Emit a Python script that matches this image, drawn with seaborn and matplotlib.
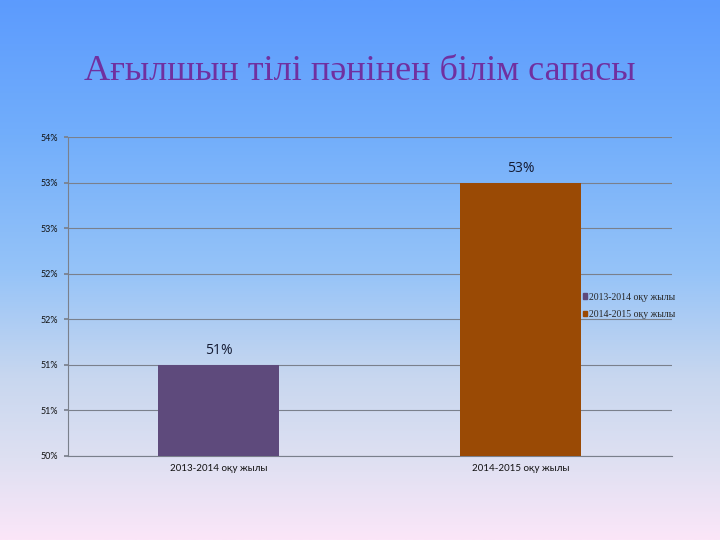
import math

import matplotlib

matplotlib.use("Agg")
import matplotlib.pyplot as plt
from matplotlib.colors import LinearSegmentedColormap
from matplotlib.ticker import FuncFormatter, MultipleLocator
import numpy as np
import pandas as pd
import seaborn as sns


TITLE = "Ағылшын тілі пәнінен білім сапасы"
years = ["2013-2014 оқу жылы", "2014-2015 оқу жылы"]
quality = [51, 53]  # percent
bar_colors = ["#5E4A7C", "#9A4A05"]


def round_half_up(v: float) -> int:
    return int(math.floor(v + 0.5 + 1e-9))


def main() -> None:
    sns.set_theme(style="white")
    plt.rcParams["font.family"] = ["Lato", "DejaVu Sans"]

    fig = plt.figure(figsize=(7.2, 5.4), dpi=100)

    # slide background gradient
    bg = fig.add_axes([0, 0, 1, 1], zorder=-10)
    cmap = LinearSegmentedColormap.from_list(
        "slide",
        [(0.0, "#5C9BFE"), (0.25, "#72AEFB"), (0.5, "#95C3F8"),
         (0.7, "#C8D7EF"), (0.85, "#DEE0F2"), (1.0, "#FBE6F8")],
    )
    grad = np.linspace(0, 1, 256).reshape(-1, 1)
    bg.imshow(grad, aspect="auto", cmap=cmap, extent=[0, 1, 0, 1], origin="upper")
    bg.set_axis_off()

    ax = fig.add_axes([0.094, 0.156, 0.839, 0.59])
    ax.set_facecolor("none")

    df = pd.DataFrame({"year": years, "quality": quality})
    sns.barplot(
        data=df, x="year", y="quality", hue="year",
        palette=bar_colors, saturation=1, width=0.4, legend=False, ax=ax,
        linewidth=0, edgecolor="none", zorder=3,
    )

    for container in ax.containers:
        ax.bar_label(
            container, labels=[f"{v:.0f}%" for v in container.datavalues],
            padding=5, fontsize=10, color="#141B33",
            family=["Open Sans", "DejaVu Sans"],
        )

    ax.set_ylim(50, 53.5)
    ax.set_xlim(-0.5, 1.5)
    ax.yaxis.set_major_locator(MultipleLocator(0.5))
    ax.yaxis.set_major_formatter(FuncFormatter(lambda v, _: f"{round_half_up(v)}%"))
    ax.grid(axis="y", color="#7A808C", linewidth=0.8, zorder=0)
    ax.set_axisbelow(True)

    ax.set_xticks([0, 1])
    ax.set_xticklabels(years)
    ax.set_xticks([-0.5, 0.5, 1.5], minor=True)
    ax.tick_params(axis="x", which="major", length=0, labelsize=7, pad=6,
                   labelcolor="#111111")
    ax.tick_params(axis="x", which="minor", length=3, color="#7A808C", direction="out")
    ax.tick_params(axis="y", length=3, color="#7A808C", direction="out",
                   labelsize=6.5, pad=4, left=True, labelcolor="#111111")
    ax.set_xlabel("")
    ax.set_ylabel("")

    for side in ("top", "right"):
        ax.spines[side].set_visible(False)
    for side in ("left", "bottom"):
        ax.spines[side].set_color("#7A808C")
        ax.spines[side].set_linewidth(0.8)

    handles = [plt.Rectangle((0, 0), 1, 1, color=c) for c in bar_colors]
    fig.legend(
        handles, years, loc="center left", bbox_to_anchor=(0.797, 0.434),
        frameon=False, handlelength=0.45, handleheight=0.45,
        handletextpad=0.2, labelspacing=0.85,
        prop={"family": ["Liberation Serif", "DejaVu Serif"], "size": 7},
    )

    fig.text(0.5, 0.868, TITLE, ha="center", va="center", fontsize=26,
             color="#7030A0", family=["Liberation Serif", "DejaVu Serif"])

    fig.savefig("out.png", dpi=100)
    plt.close(fig)


if __name__ == "__main__":
    main()
